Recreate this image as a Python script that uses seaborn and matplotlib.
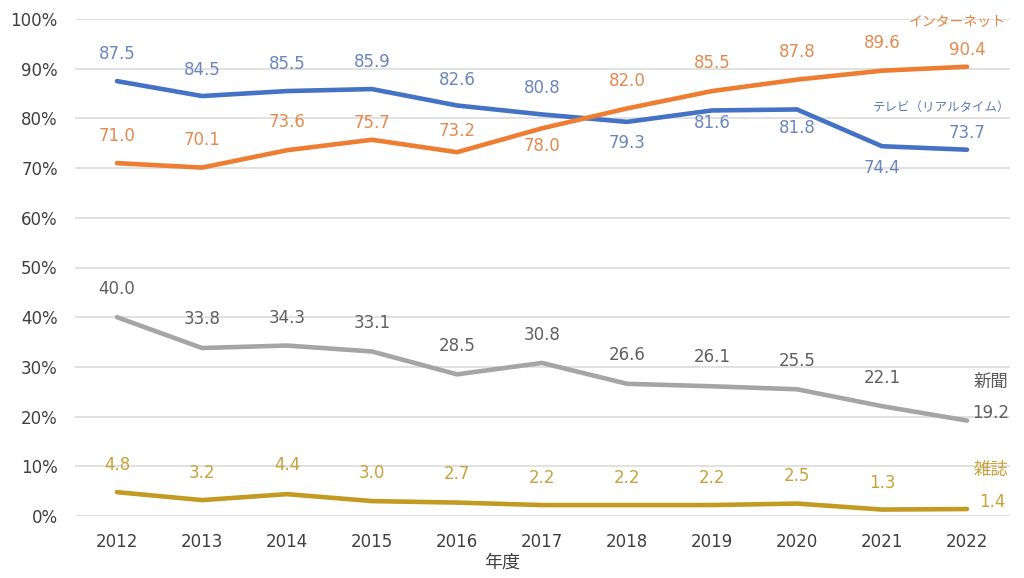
import matplotlib
matplotlib.use("Agg")
import matplotlib.pyplot as plt
import seaborn as sns
import pandas as pd
import numpy as np

years = [2012, 2013, 2014, 2015, 2016, 2017, 2018, 2019, 2020, 2021, 2022]
series_names = ["テレビ（リアルタイム）", "インターネット", "新聞", "雑誌"]
tv = [87.5, 84.5, 85.5, 85.9, 82.6, 80.8, 79.3, 81.6, 81.8, 74.4, 73.7]
internet = [71.0, 70.1, 73.6, 75.7, 73.2, 78.0, 82.0, 85.5, 87.8, 89.6, 90.4]
newspaper = [40.0, 33.8, 34.3, 33.1, 28.5, 30.8, 26.6, 26.1, 25.5, 22.1, 19.2]
magazine = [4.8, 3.2, 4.4, 3.0, 2.7, 2.2, 2.2, 2.2, 2.5, 1.3, 1.4]
y_ticks = [0, 10, 20, 30, 40, 50, 60, 70, 80, 90, 100]
x_title = "年度"

values = [tv, internet, newspaper, magazine]

# styles
line_colors = ["#4472C4", "#ED7D31", "#A5A5A5", "#C39A22"]
label_colors = ["#6A86BF", "#E58A4E", "#606060", "#C8A23A"]
name_colors = ["#5B7AB8", "#E9803C", "#595959", "#C8A23A"]
name_sizes = [9, 10, 12.5, 12.5]

# label offsets in pixels (dx, dy; dy positive = down)
offsets = [
    [(0, -27), (0, -26), (0, -27), (0, -27), (0, -25), (0, -26), (0, 21), (0, 13), (0, 19), (0, 22), (0, -17)],
    [(0, -27), (0, -28), (0, -28), (0, -17), (0, -21), (0, 18), (0, -27), (0, -28), (0, -28), (0, -28), (0, -17)],
    [(0, -28), (0, -29), (0, -28), (0, -28), (0, -28), (0, -28), (0, -29), (0, -29), (0, -28), (0, -28), (24, -8)],
    [(0, -27), (0, -27), (0, -29), (0, -28), (0, -29), (0, -27), (0, -27), (0, -27), (0, -28), (0, -27), (25, -7)],
]
name_offsets = [(-25, -42), (-10, -45), (24, -39), (24, -39)]

sns.set_style("white")
plt.rcParams["font.family"] = ["DejaVu Sans", "Noto Sans CJK JP"]

df = pd.DataFrame({
    "年": [str(y) for y in years] * len(series_names),
    "系列": np.repeat(series_names, len(years)),
    "値": np.concatenate(values),
})

fig = plt.figure(figsize=(10.24, 5.78), dpi=100)
ax = fig.add_axes([74.5 / 1024, 1 - 516 / 578, 935 / 1024, 497 / 578])

sns.lineplot(data=df, x="年", y="値", hue="系列", palette=dict(zip(series_names, line_colors)),
             linewidth=3.3, ax=ax, legend=False, sort=False)

ax.set_xlim(-0.5, len(years) - 0.5)
ax.set_ylim(0, 100)
ax.set_yticks(y_ticks)
ax.set_yticklabels([f"{t}%" for t in y_ticks])
ax.yaxis.grid(True, color="#D9D9D9", linewidth=1.1)
ax.set_axisbelow(True)
for s in ax.spines.values():
    s.set_visible(False)
ax.tick_params(axis="both", length=0, labelsize=12, colors="#404040")
ax.tick_params(axis="y", pad=12)
ax.tick_params(axis="x", pad=12)
ax.set_xlabel("")
ax.set_ylabel("")

px = 0.72  # pixels -> points at 100 dpi
for si, vals in enumerate(values):
    for i, v in enumerate(vals):
        dx, dy = offsets[si][i]
        ax.annotate(f"{v:.1f}", xy=(i, v), xytext=(dx * px, -dy * px), textcoords="offset points",
                    ha="center", va="center", fontsize=12, color=label_colors[si])
    dx, dy = name_offsets[si]
    ax.annotate(series_names[si], xy=(len(years) - 1, vals[-1]), xytext=(dx * px, -dy * px),
                textcoords="offset points", ha="center", va="center", fontsize=name_sizes[si],
                color=name_colors[si], family=["Noto Sans CJK JP", "DejaVu Sans"])

fig.text(502 / 1024, 1 - 563 / 578, x_title, ha="center", va="center", fontsize=13, color="#404040",
         family=["Noto Sans CJK JP", "DejaVu Sans"])

fig.savefig("out.png", dpi=100)
